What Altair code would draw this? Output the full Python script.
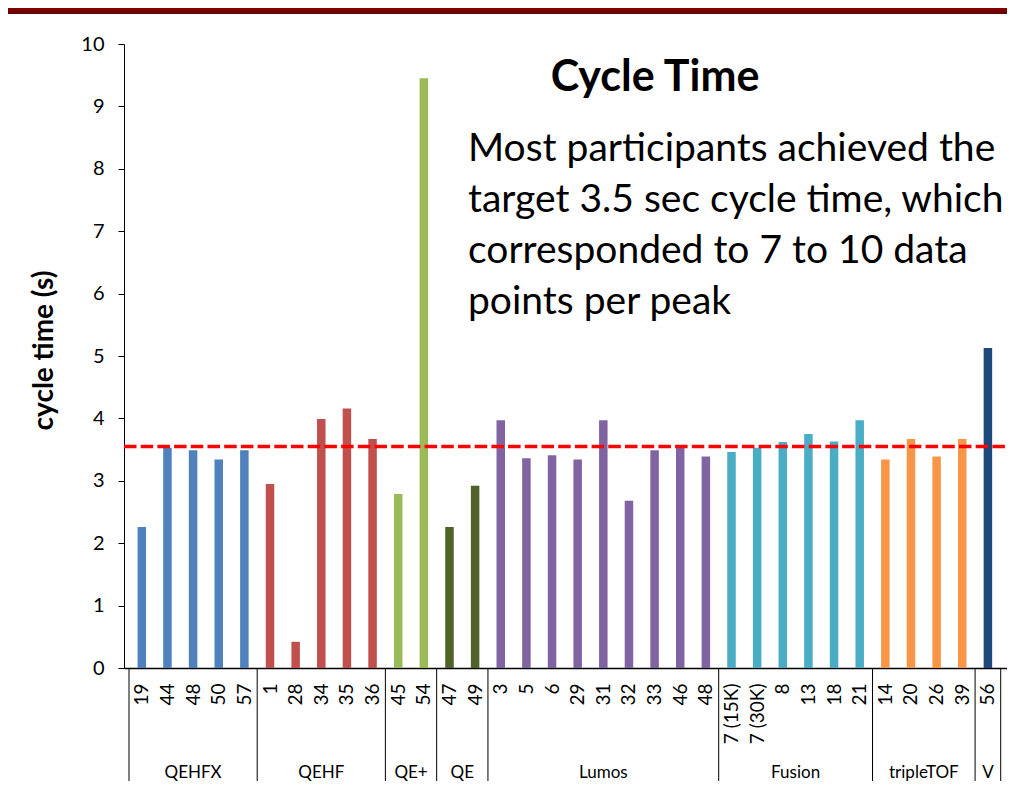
import altair as alt
import pandas as pd

# ---------------- data ----------------
labels = ["19", "44", "48", "50", "57",
          "1", "28", "34", "35", "36",
          "45", "54",
          "47", "49",
          "3", "5", "6", "29", "31", "32", "33", "46", "48",
          "7 (15K)", "7 (30K)", "8", "13", "18", "21",
          "14", "20", "26", "39",
          "56"]
group_names = ["QEHFX", "QEHF", "QE+", "QE", "Lumos", "Fusion", "tripleTOF", "V"]
group_counts = [5, 5, 2, 2, 9, 6, 4, 1]
group_colors = ["#4F81BD", "#C0504D", "#9BBB59", "#4F6228",
                "#8064A2", "#4BACC6", "#F79646", "#1F497D"]
values = [2.26, 3.53, 3.49, 3.34, 3.49,
          2.95, 0.42, 3.99, 4.16, 3.67,
          2.79, 9.45,
          2.26, 2.92,
          3.97, 3.36, 3.41, 3.34, 3.97, 2.68, 3.49, 3.54, 3.39,
          3.46, 3.53, 3.62, 3.75, 3.63, 3.97,
          3.34, 3.67, 3.39, 3.67,
          5.13]
target = 3.55
y_ticks = list(range(0, 11))
title_text = "Cycle Time"
note_lines = ["Most participants achieved the",
              "target 3.5 sec cycle time, which",
              "corresponded to 7 to 10 data",
              "points per peak"]
y_title = "cycle time (s)"

# ---------------- tables ----------------
groups = []
for g, c in zip(group_names, group_counts):
    groups += [g] * c
bars_df = pd.DataFrame({"idx": list(range(len(labels))), "label": labels,
                        "group": groups, "value": values})
starts = []
s = 0
for c in group_counts:
    starts.append(s)
    s += c
sep_df = pd.DataFrame({"b": [st - 0.5 for st in starts] + [s - 0.5]})
grp_df = pd.DataFrame({"group": group_names,
                       "center": [st + (c - 1) / 2 for st, c in zip(starts, group_counts)]})

# ---------------- layout ----------------
W, H = 883, 624
PAD = {"left": 116, "top": 36, "right": 0, "bottom": 113}
FONT = "Lato"

xscale = alt.Scale(domain=[-0.5, 33.55], nice=False, zero=False)
yscale = alt.Scale(domain=[0, 10], nice=False)

label_expr = "[" + ",".join("'" + l + "'" for l in labels) + "][datum.value]"

x_axis = alt.Axis(values=list(range(len(labels))), labelExpr=label_expr,
                  labelAngle=-90, labelAlign="right", labelBaseline="middle",
                  labelPadding=15, ticks=False, grid=False,
                  domainColor="#000000", domainWidth=1.5,
                  labelFont=FONT, labelFontSize=19, labelColor="#000000",
                  labelOverlap=False, labelFlush=False, labelBound=False)
y_axis = alt.Axis(values=y_ticks, format="d", grid=False, tickSize=6, tickColor="#000000",
                  domainColor="#000000", domainWidth=1,
                  labelFont=FONT, labelFontSize=20, labelColor="#000000",
                  labelPadding=14, labelOverlap=False,
                  titleFont=FONT, titleFontSize=28, titleFontWeight="bold",
                  titleColor="#000000", titleAngle=-90, titleAlign="center",
                  titleBaseline="middle", titleX=-80, titleY=306)

bars = alt.Chart(bars_df).mark_bar(size=8.5).encode(
    x=alt.X("idx:Q", scale=xscale, title=None, axis=x_axis),
    y=alt.Y("value:Q", scale=yscale, title=y_title, axis=y_axis),
    color=alt.Color("group:N", scale=alt.Scale(domain=group_names, range=group_colors),
                    legend=None),
)

seps = alt.Chart(sep_df).mark_rule(color="#000000", strokeWidth=1).encode(
    x=alt.X("b:Q", scale=xscale, title=None, axis=x_axis),
    y=alt.value(H), y2=alt.value(H + PAD["bottom"]),
)

target_line = alt.Chart(pd.DataFrame({"t": [target]})).mark_rule(
    color="#FF0000", strokeWidth=3.5, strokeDash=[12.5, 4.2]).encode(
    y=alt.Y("t:Q", scale=yscale, title=y_title, axis=y_axis),
    x=alt.value(0), x2=alt.value(W),
)

grp_text = alt.Chart(grp_df).mark_text(font=FONT, fontSize=17, color="#000000",
                                       baseline="middle", align="center").encode(
    x=alt.X("center:Q", scale=xscale, title=None, axis=x_axis),
    y=alt.value(729),
    text="group:N",
)

one = pd.DataFrame({"d": [0]})

banner = alt.Chart(one).mark_rect(
    color=alt.Gradient(gradient="linear",
                       stops=[alt.GradientStop(color="#8c0000", offset=0),
                              alt.GradientStop(color="#5a0505", offset=1)],
                       x1=0, x2=0, y1=0, y2=1)).encode(
    x=alt.value(-PAD["left"]), x2=alt.value(W),
    y=alt.value(-PAD["top"]), y2=alt.value(-PAD["top"] + 6),
)

title = alt.Chart(one).mark_text(text=title_text, font=FONT, fontSize=43,
                                 fontWeight="bold", color="#000000",
                                 align="center", baseline="middle").encode(
    x=alt.value(531), y=alt.value(34),
)

note = alt.Chart(one).mark_text(text=note_lines, font=FONT, fontSize=39,
                                lineHeight=51, color="#000000",
                                align="left", baseline="alphabetic").encode(
    x=alt.value(344), y=alt.value(117),
)

chart = alt.layer(banner, seps, bars, target_line, grp_text, title, note).properties(
    width=W, height=H, padding=PAD,
    autosize=alt.AutoSizeParams(type="none"),
).configure_view(stroke=None)

chart.save("out.html", embed_options={"renderer": "svg", "actions": False})
